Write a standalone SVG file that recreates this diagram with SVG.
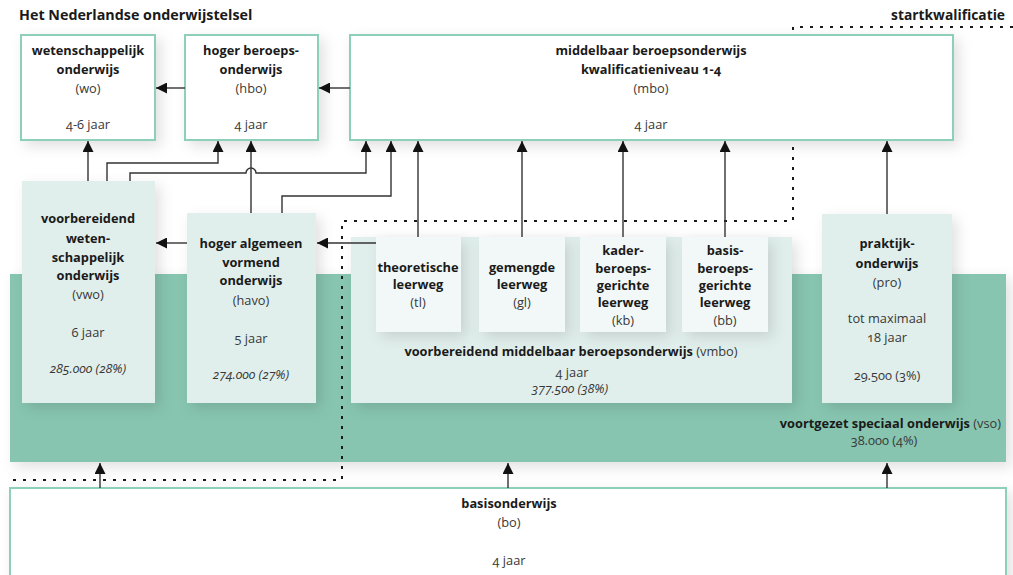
<svg xmlns="http://www.w3.org/2000/svg" width="1013" height="575" viewBox="0 0 1013 575">
<defs>
<style>
text{font-family:"Open Sans","Noto Sans","Liberation Sans",sans-serif;font-size:12.8px;fill:#383838;text-anchor:middle;font-variant-numeric:oldstyle-nums}
.b{font-weight:bold;fill:#1a1a1a}
.i{font-style:italic}
.t{font-size:14.3px;font-weight:bold;fill:#1a1a1a}
.top{fill:#fff;stroke:#8dcfba;stroke-width:2}
.mid{fill:#e1efec}
.sub{fill:#f1f8f7}
.band{fill:#87c5b0}
.dot{fill:none;stroke:#1a1a1a;stroke-width:2;stroke-dasharray:3 7}
.c{fill:none;stroke:#333;stroke-width:1.4;marker-end:url(#ah)}
</style>
<marker id="ah" markerUnits="userSpaceOnUse" markerWidth="11" markerHeight="11" refX="10" refY="5" orient="auto" viewBox="0 0 10 10">
<path d="M0,0 L10,5 L0,10 z" fill="#111"/>
</marker>
<filter id="sh" x="-20%" y="-20%" width="150%" height="150%">
<feDropShadow dx="5" dy="5" stdDeviation="7" flood-color="#000" flood-opacity="0.12"/>
</filter>
</defs>
<rect width="1013" height="575" fill="#fff"/>
<text class="t" x="19" y="20" style="text-anchor:start">Het Nederlandse onderwijstelsel</text>
<text class="t" x="1005" y="20" style="text-anchor:end;font-size:13.8px">startkwalificatie</text>

<g id="vso">
<rect class="band" x="10" y="274" width="996" height="188" filter="url(#sh)"/>
<text x="1001" y="428" style="text-anchor:end"><tspan class="b">voortgezet speciaal onderwijs</tspan> (vso)</text>
<text x="884" y="445">38.000 (4%)</text>
</g>

<path class="dot" d="M1013,27 H793 V221 H342 V480 H10"/>

<g id="wo">
<rect class="top" x="21" y="35" width="134" height="105" filter="url(#sh)"/>
<text class="b" x="88" y="55">wetenschappelijk</text>
<text class="b" x="88" y="74">onderwijs</text>
<text x="88" y="93">(wo)</text>
<text x="88" y="129">4-6 jaar</text>
</g>
<g id="hbo">
<rect class="top" x="185" y="35" width="133" height="105" filter="url(#sh)"/>
<text class="b" x="251" y="55">hoger beroeps-</text>
<text class="b" x="251" y="74">onderwijs</text>
<text x="251" y="93">(hbo)</text>
<text x="251" y="129">4 jaar</text>
</g>
<g id="mbo">
<rect class="top" x="350" y="35" width="603" height="105" filter="url(#sh)"/>
<text class="b" x="651" y="55">middelbaar beroepsonderwijs</text>
<text class="b" x="651" y="74">kwalificatieniveau 1-4</text>
<text x="651" y="93">(mbo)</text>
<text x="651" y="129">4 jaar</text>
</g>
<g id="vwo">
<rect class="mid" x="22" y="181" width="133" height="222" filter="url(#sh)"/>
<text class="b" x="88" y="223">voorbereidend</text>
<text class="b" x="88" y="243">weten-</text>
<text class="b" x="88" y="262">schappelijk</text>
<text class="b" x="88" y="280">onderwijs</text>
<text x="88" y="299">(vwo)</text>
<text x="88" y="337">6 jaar</text>
<text class="i" x="88" y="373">285.000 (28%)</text>
</g>
<g id="havo">
<rect class="mid" x="187" y="213" width="129" height="190" filter="url(#sh)"/>
<text class="b" x="251" y="248">hoger algemeen</text>
<text class="b" x="251" y="267">vormend</text>
<text class="b" x="251" y="285">onderwijs</text>
<text x="251" y="305">(havo)</text>
<text x="251" y="343">5 jaar</text>
<text class="i" x="251" y="379">274.000 (27%)</text>
</g>
<g id="vmbo">
<rect class="mid" x="351" y="237" width="441" height="166" filter="url(#sh)"/>
<text x="571" y="356"><tspan class="b">voorbereidend middelbaar beroepsonderwijs</tspan> (vmbo)</text>
<text x="572" y="377">4 jaar</text>
<text class="i" x="570" y="393">377.500 (38%)</text>
</g>
<g id="tl">
<rect class="sub" x="376" y="237" width="85" height="95" filter="url(#sh)"/>
<text class="b" x="418" y="272">theoretische</text>
<text class="b" x="418" y="289">leerweg</text>
<text x="418" y="307">(tl)</text>
</g>
<g id="gl">
<rect class="sub" x="479" y="237" width="86" height="95" filter="url(#sh)"/>
<text class="b" x="522" y="272">gemengde</text>
<text class="b" x="522" y="289">leerweg</text>
<text x="522" y="307">(gl)</text>
</g>
<g id="kb">
<rect class="sub" x="580" y="237" width="86" height="95" filter="url(#sh)"/>
<text class="b" x="623" y="255">kader-</text>
<text class="b" x="623" y="273">beroeps-</text>
<text class="b" x="623" y="290">gerichte</text>
<text class="b" x="623" y="307">leerweg</text>
<text x="623" y="325">(kb)</text>
</g>
<g id="bb">
<rect class="sub" x="682" y="237" width="86" height="95" filter="url(#sh)"/>
<text class="b" x="725" y="255">basis-</text>
<text class="b" x="725" y="273">beroeps-</text>
<text class="b" x="725" y="290">gerichte</text>
<text class="b" x="725" y="307">leerweg</text>
<text x="725" y="325">(bb)</text>
</g>
<g id="pro">
<rect class="mid" x="822" y="214" width="130" height="189" filter="url(#sh)"/>
<text class="b" x="887" y="248">praktijk-</text>
<text class="b" x="887" y="268">onderwijs</text>
<text x="887" y="287">(pro)</text>
<text x="887" y="323">tot maximaal</text>
<text x="887" y="342">18 jaar</text>
<text x="887" y="380">29.500 (3%)</text>
</g>
<g id="bo">
<rect class="top" x="10" y="488" width="996" height="100" filter="url(#sh)"/>
<text class="b" x="509" y="508">basisonderwijs</text>
<text x="509" y="527">(bo)</text>
<text x="509" y="565">4 jaar</text>
</g>

<g id="connectors">
<path class="c" d="M185,88 H156"/>
<path class="c" d="M350,88 H319"/>
<path class="c" d="M187,243 H156"/>
<path class="c" d="M376,243 H317"/>
<path class="c" d="M88,181 V141"/>
<path class="c" d="M107,181 V163 H218 V141"/>
<path class="c" d="M130,181 V173 H246 A5,5 0 0 1 256,173 H366 V141"/>
<path class="c" d="M251,213 V141"/>
<path class="c" d="M282,213 V196 H391 V141"/>
<path class="c" d="M418,237 V141"/>
<path class="c" d="M522,237 V141"/>
<path class="c" d="M623,237 V141"/>
<path class="c" d="M725,237 V141"/>
<path class="c" d="M887,214 V141"/>
<path class="c" d="M100,488 V463"/>
<path class="c" d="M508,488 V463"/>
<path class="c" d="M887,488 V463"/>
</g>
</svg>
